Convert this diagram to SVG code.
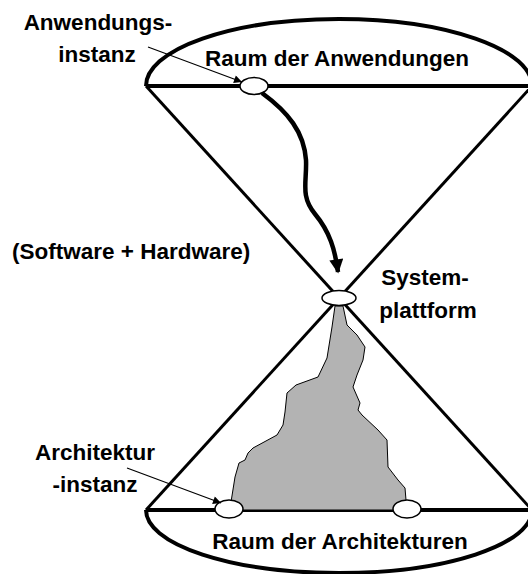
<svg xmlns="http://www.w3.org/2000/svg" width="528" height="574" viewBox="0 0 528 574">
  <style>
    .lbl { font-family: "Liberation Sans", Arial, sans-serif; font-weight: bold; font-size: 22.5px; fill: #000; }
    .mid { text-anchor: middle; }
    .frame { fill: none; stroke: #000; stroke-width: 4; }
    .side { fill: none; stroke: #000; stroke-width: 3; }
    .inst { fill: #fff; stroke: #000; stroke-width: 1.5; }
    .ptr { fill: none; stroke: #000; stroke-width: 1.2; }
  </style>
  <defs>
    <marker id="thinHead" viewBox="0 0 10 10" refX="10" refY="5" markerWidth="11" markerHeight="8" markerUnits="userSpaceOnUse" orient="auto">
      <path d="M0,0 L10,5 L0,10 z" fill="#000"/>
    </marker>
    <marker id="thickHead" viewBox="0 0 10 10" refX="9" refY="5" markerWidth="22" markerHeight="14" markerUnits="userSpaceOnUse" orient="auto">
      <path d="M0,0 L10,5 L0,10 z" fill="#000"/>
    </marker>
  </defs>

  <!-- hourglass frame -->
  <g id="application-space">
    <path class="frame" d="M146,86 A193,67 0 0 1 532,86"/>
    <line class="frame" x1="146" y1="86" x2="532" y2="86"/>
    <text class="lbl mid" x="337" y="66">Raum der Anwendungen</text>
  </g>
  <g id="architecture-space">
    <path class="frame" d="M146,510 A193,63 0 0 0 532,510"/>
    <line class="frame" x1="146" y1="510" x2="532" y2="510"/>
    <text class="lbl mid" x="340" y="549">Raum der Architekturen</text>
  </g>
  <g id="funnel">
    <line class="side" x1="146" y1="86" x2="339" y2="298"/>
    <line class="side" x1="532" y1="86" x2="339" y2="298"/>
    <line class="side" x1="339" y1="298" x2="146" y2="510"/>
    <line class="side" x1="339" y1="298" x2="532" y2="510"/>
  </g>

  <!-- explored architecture region -->
  <g id="architecture-region">
    <path fill="#b3b3b3" stroke="#000" stroke-width="1" d="M335,306 L332,327 L327,358 L318,377 L296,385 L287,393 L285,412 L283,425 L277,435 L253,448 L248,453 L245,460 L239,463 L235,477 L231,502 L231,510 L406,510 L406,500 L405,488 L398,480 L388,467 L387,440 L378,430 L362,415 L358,410 L360,403 L353,387 L357,375 L363,360 L365,347 L357,335 L347,325 L343,306 Z"/>
  </g>

  <!-- instances -->
  <g id="application-instance">
    <ellipse class="inst" cx="254" cy="86" rx="14" ry="8.5"/>
    <text class="lbl mid" x="98" y="30">Anwendungs-</text>
    <text class="lbl mid" x="97" y="62">instanz</text>
  </g>
  <g id="system-platform">
    <ellipse class="inst" cx="339" cy="298" rx="17" ry="7.5"/>
    <text class="lbl mid" x="425" y="285">System-</text>
    <text class="lbl mid" x="428" y="318">plattform</text>
  </g>
  <g id="architecture-instance">
    <ellipse class="inst" cx="229" cy="509" rx="14" ry="9"/>
    <text class="lbl mid" x="95" y="460">Architektur</text>
    <text class="lbl mid" x="95" y="492">-instanz</text>
  </g>
  <g id="architecture-instance-2">
    <ellipse class="inst" cx="407" cy="509" rx="14" ry="9"/>
  </g>
  <g id="platform-note">
    <text class="lbl" x="12" y="259">(Software + Hardware)</text>
  </g>

  <!-- connectors -->
  <g id="connectors">
    <path class="ptr" d="M148,47 L242,82" marker-end="url(#thinHead)"/>
    <path class="ptr" d="M127,468 L221,503" marker-end="url(#thinHead)"/>
    <path fill="none" stroke="#000" stroke-width="4.5" d="M262,93 C288,112 304,132 306,160 C307,182 300,196 315,214 C330,232 335,250 338,272" marker-end="url(#thickHead)"/>
  </g>
</svg>
